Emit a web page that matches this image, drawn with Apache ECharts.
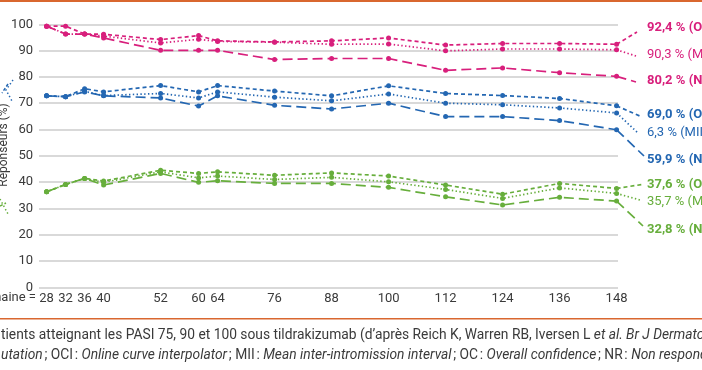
<!DOCTYPE html>
<html>
<head>
<meta charset="utf-8">
<script src="https://cdn.jsdelivr.net/npm/echarts@6/dist/echarts.min.js"></script>
<style>html,body{margin:0;padding:0;background:#fff;overflow:hidden}#c{width:702px;height:370px}</style>
</head>
<body>
<div id="c"></div>
<script>
// ---- data ----
const weeks = [28, 32, 36, 40, 52, 60, 64, 76, 88, 100, 112, 124, 136, 148];
const yTicks = [0, 10, 20, 30, 40, 50, 60, 70, 80, 90, 100];

const pasi75_OC  = [99.3, 99.3, 96.3, 96.2, 94.2, 95.7, 93.7, 93.3, 93.7, 94.8, 92.1, 92.7, 92.7, 92.4];
const pasi75_MII = [99.3, 96.3, 96.3, 95.5, 92.9, 94.3, 93.5, 93.2, 92.4, 92.5, 89.9, 90.6, 90.6, 90.3];
const pasi75_NR  = [99.3, 96.3, 96.3, 94.8, 90.1, 90.1, 90.1, 86.6, 87.0, 87.0, 82.5, 83.4, 81.6, 80.2];

const pasi90_OC  = [72.8, 72.5, 75.5, 74.3, 76.7, 74.3, 76.7, 74.6, 72.8, 76.6, 73.7, 72.9, 71.8, 69.0];
const pasi90_MII = [72.8, 72.5, 74.5, 72.9, 73.7, 72.0, 74.3, 72.3, 70.9, 73.5, 70.0, 69.4, 68.2, 66.3];
const pasi90_NR  = [72.8, 72.5, 74.3, 72.8, 72.0, 68.9, 72.8, 69.2, 67.8, 70.0, 64.9, 64.9, 63.4, 59.9];

const pasi100_OC  = [36.3, 39.1, 41.4, 40.4, 44.5, 43.3, 43.9, 42.6, 43.5, 42.3, 38.9, 35.4, 39.5, 37.6];
const pasi100_MII = [36.3, 39.1, 41.4, 39.9, 43.9, 41.6, 42.3, 41.0, 41.8, 40.1, 37.2, 33.8, 37.8, 35.7];
const pasi100_NR  = [36.3, 39.1, 41.4, 38.9, 43.3, 39.9, 40.5, 39.5, 39.5, 38.0, 34.4, 31.3, 34.2, 32.8];

const endLabels = ['92,4 % (OC)', '90,3 % (MII)', '80,2 % (NR)',
                   '69,0 % (OC)', '6,3 % (MII)', '59,9 % (NR)',
                   '37,6 % (OC)', '35,7 % (MII)', '32,8 % (NR)'];

// ---- styles ----
const MAG = '#d81f7c', BLUE = '#2467b2', GREEN = '#67ae3c';
const DASH = {OC: [4, 3], MII: [1.4, 2.4], NR: [10, 5]};
const FONT = 'Roboto';
const TXT = '#3a3a3a';
const CAP = '13.8px ' + FONT;
const T = '\u202F';

const seriesDefs = [
  {d: pasi75_OC,  c: MAG,   k: 'OC'},
  {d: pasi75_MII, c: MAG,   k: 'MII'},
  {d: pasi75_NR,  c: MAG,   k: 'NR'},
  {d: pasi90_OC,  c: BLUE,  k: 'OC'},
  {d: pasi90_MII, c: BLUE,  k: 'MII'},
  {d: pasi90_NR,  c: BLUE,  k: 'NR'},
  {d: pasi100_OC,  c: GREEN, k: 'OC'},
  {d: pasi100_MII, c: GREEN, k: 'MII'},
  {d: pasi100_NR,  c: GREEN, k: 'NR'}
];
// label layout (pixels): label centre y and leader end point
const labelY = [28, 55, 81, 115, 133, 160, 184.5, 201.5, 230];
const leaderEnd = [[637, 32], [636, 56], [636, 82], [642, 117], [638, 133], [644, 156], [642, 184.5], [640, 200], [643, 226]];

const series = seriesDefs.map((s, i) => ({
  type: 'line',
  data: weeks.map((w, j) => [w, s.d[j]]),
  symbol: 'circle',
  symbolSize: 5,
  itemStyle: {color: s.c},
  lineStyle: {color: s.c, width: 1.7, type: DASH[s.k]},
  z: 3,
  markLine: {
    silent: true,
    symbol: ['none', 'none'],
    label: {show: false},
    lineStyle: {color: s.c, width: 1.7, type: DASH[s.k]},
    data: [[{coord: [weeks[weeks.length - 1], s.d[s.d.length - 1]]}, {x: leaderEnd[i][0], y: leaderEnd[i][1]}]],
    animation: false
  }
}));

const graphics = [
  {type: 'rect', shape: {x: 0, y: 0, width: 702, height: 2}, style: {fill: '#d9672f'}},
  {type: 'rect', shape: {x: 0, y: 318, width: 702, height: 1.6}, style: {fill: '#d9672f'}},
  {type: 'text', x: 36, y: 298, style: {text: 'Semaine =', font: '13px ' + FONT, fill: TXT, align: 'right', verticalAlign: 'middle'}},
  {type: 'text', x: 4, y: 145, rotation: Math.PI / 2, style: {text: 'Réponseurs (%)', font: '12px ' + FONT, fill: TXT, align: 'center', verticalAlign: 'middle'}},
  // partial leaders from cut-off left labels
  {type: 'polyline', shape: {points: [[13, 80], [6, 90], [12, 101]]}, style: {stroke: BLUE, lineWidth: 1.5, lineDash: [1.4, 2.4], fill: null}},
  {type: 'polyline', shape: {points: [[8, 84], [2, 93]]}, style: {stroke: BLUE, lineWidth: 1.5, lineDash: [3, 2], fill: null}},
  {type: 'polyline', shape: {points: [[0, 199], [8, 214]]}, style: {stroke: GREEN, lineWidth: 1.5, lineDash: [1.4, 2.4], fill: null}},
  {type: 'polyline', shape: {points: [[0, 206], [6, 203]]}, style: {stroke: GREEN, lineWidth: 1.5, lineDash: [3, 2], fill: null}},
  {type: 'text', x: 1, y: 336, style: {
    text: '{n|tients atteignant les PASI 75, 90 et 100 sous tildrakizumab (d\u2019après Reich K, Warren RB, Iversen L }{i|et al. Br J Dermatol}',
    font: CAP, fill: TXT, verticalAlign: 'middle',
    rich: {n: {font: CAP, fill: TXT}, i: {font: 'italic ' + CAP, fill: TXT}}
  }},
  {type: 'text', x: 1, y: 356, style: {
    text: '{i|utation}{n|' + T + '; OCI' + T + ': }{i|Online curve interpolator}{n|' + T + '; MII' + T + ': }{i|Mean inter-intromission interval}{n|' + T + '; OC' + T + ': }{i|Overall confidence}{n|' + T + '; NR' + T + ': }{i|Non responder imputation}',
    font: CAP, fill: TXT, verticalAlign: 'middle',
    rich: {n: {font: CAP, fill: TXT}, i: {font: 'italic ' + CAP, fill: TXT}}
  }}
];
seriesDefs.forEach((s, i) => {
  graphics.push({type: 'text', x: 647, y: labelY[i], style: {
    text: endLabels[i], font: (s.k === 'MII' ? '' : 'bold ') + '13px ' + FONT,
    fill: s.c, verticalAlign: 'middle'
  }});
});

const chart = echarts.init(document.getElementById('c'), null, {renderer: 'canvas'});
chart.setOption({
  animation: false,
  backgroundColor: '#fff',
  grid: {left: 39, right: 84, top: 24.3, bottom: 82.7, containLabel: false, outerBoundsMode: 'none'},
  xAxis: {
    type: 'value', min: 26.4, max: 148.3,
    axisLine: {show: false}, axisTick: {show: false}, splitLine: {show: false},
    axisLabel: {customValues: weeks, color: TXT, fontSize: 13, fontFamily: FONT, margin: 5, showMinLabel: true, showMaxLabel: true}
  },
  yAxis: {
    type: 'value', min: 0, max: 100, interval: 10,
    axisLine: {show: false}, axisTick: {show: false},
    splitLine: {lineStyle: {color: '#cdcdcd', width: 1.5}},
    axisLabel: {color: TXT, fontSize: 13, fontFamily: FONT, margin: 6, customValues: yTicks}
  },
  series: series,
  graphic: graphics
});
</script>
</body>
</html>
